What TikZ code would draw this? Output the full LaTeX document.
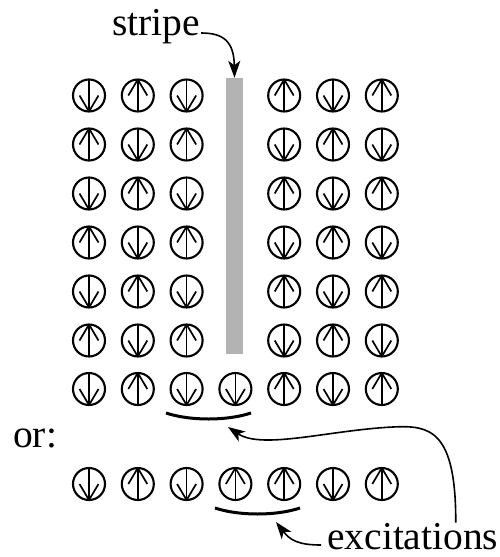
\documentclass[tikz,border=0pt]{standalone}
\usepackage{fontspec}
\setmainfont{Liberation Serif}
\usetikzlibrary{arrows.meta,calc}
\definecolor{stripegray}{RGB}{179,179,179}
\tikzset{
  spin/.style={circle, draw, line width=2.1pt, minimum size=32pt, inner sep=0pt,
    path picture={
      \draw[line width=1.7pt] ([yshift=-17pt]path picture bounding box.center) -- ([yshift=17pt]path picture bounding box.center);
      \draw[line width=1.7pt] ([xshift=-9.5pt]path picture bounding box.center)
        -- ([yshift=#1*16pt]path picture bounding box.center)
        -- ([xshift=9.5pt]path picture bounding box.center);
    }},
  lbl/.style={inner sep=0pt, font=\fontsize{39.5}{44}\selectfont},
  conn/.style={line width=1.6pt, -{Stealth[length=17pt,width=12pt,inset=4.5pt]}},
  brace/.style={line width=3pt}
}
\begin{document}
\begin{tikzpicture}[x=1pt,y=-1pt]
\useasboundingbox (0,0) rectangle (500,557);
% stripe
\node[fill=stripegray, minimum width=17pt, minimum height=276pt, inner sep=0pt] (stripe) at (234.5,216) {};
% grid
\foreach \r in {1,...,6}{
  \foreach \c in {1,2,3,5,6,7}{
    \pgfmathtruncatemacro\d{ifthenelse(mod(\r+\c+(\c>4),2)==0,-1,1)}
    \node[spin=\d] (s\r-\c) at ({89+48.8*(\c-1)},{95.5+49*(\r-1)}) {};
  }
}
\foreach \c/\d in {1/-1,2/1,3/-1,4/-1,5/1,6/-1,7/1}
  \node[spin=\d] (s7-\c) at ({89+48.8*(\c-1)},389) {};
\foreach \c/\d in {1/-1,2/1,3/-1,4/1,5/1,6/-1,7/1}
  \node[spin=\d] (o-\c) at ({89+48.8*(\c-1)},484) {};
% labels
\node[lbl, anchor=base west] (stxt) at (112,35) {stripe};
\node[lbl, anchor=base west] (ortxt) at (13,447) {or:};
\node[lbl, anchor=base west] (exc) at (327,549) {excitations};
% braces
\draw[brace] (166,413) .. controls (190,421) and (227,421) .. (251,413);
\draw[brace] (215,508) .. controls (239,516) and (276,516) .. (300,508);
\coordinate (b1tip) at (228,427);
\coordinate (b2tip) at (276,522);
% connectors
\draw[conn] ([xshift=1pt,yshift=2pt]stxt.base east) .. controls (224,33) and (234,42) .. (stripe.north);
\draw[conn] ([xshift=43pt]exc.north) .. controls (456,430) and (430,425) .. (393,427)
   .. controls (330,430) and (262,450) .. (b1tip);
\draw[conn] ([xshift=-6pt,yshift=4pt]exc.base west) .. controls (298,545) and (290,540) .. (b2tip);
\end{tikzpicture}
\end{document}
